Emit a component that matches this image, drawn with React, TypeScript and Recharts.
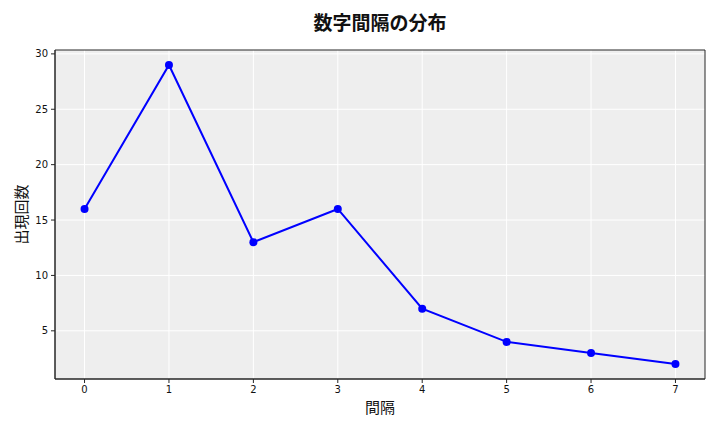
import { CartesianGrid, Label, Line, LineChart, ReferenceArea, XAxis, YAxis } from "recharts";

// 数字間隔ごとの出現回数
const intervals = [0, 1, 2, 3, 4, 5, 6, 7];
const counts = [16, 29, 13, 16, 7, 4, 3, 2];
const xTicks = [0, 1, 2, 3, 4, 5, 6, 7];
const yTicks = [5, 10, 15, 20, 25, 30];

const data = intervals.map((interval, i) => ({ interval, count: counts[i] }));

const X_DOMAIN: [number, number] = [-0.35, 7.35];
const Y_DOMAIN: [number, number] = [0.65, 30.35];

const AXIS_COLOR = "#262626";
const tickStyle = { fill: "#111", fontSize: 10, fontFamily: "DejaVu Sans" };
const cjkFont = "'Noto Sans CJK JP', sans-serif";

export default function App() {
  return (
    <div style={{ position: "absolute", left: 0, top: 0, width: 720, height: 432, background: "#fff" }}>
      <div
        style={{
          position: "absolute",
          left: 55,
          width: 650,
          top: 8,
          textAlign: "center",
          fontFamily: cjkFont,
          fontSize: 19,
          fontWeight: 600,
          color: "#111",
        }}
      >
        数字間隔の分布
      </div>
      <LineChart width={720} height={432} data={data} margin={{ top: 50, right: 15, bottom: 23, left: 25 }}>
        <CartesianGrid fill="#eeeeee" stroke="#ffffff" strokeWidth={1} verticalValues={xTicks} horizontalValues={yTicks} />
        <XAxis
          dataKey="interval"
          type="number"
          domain={X_DOMAIN}
          ticks={xTicks}
          allowDataOverflow
          height={30}
          stroke={AXIS_COLOR}
          tick={tickStyle}
          tickSize={4}
          tickMargin={3}
        >
          <Label value="間隔" position="insideBottom" offset={-4} style={{ fontFamily: cjkFont, fontSize: 15, fill: "#111" }} />
        </XAxis>
        <YAxis
          type="number"
          domain={Y_DOMAIN}
          ticks={yTicks}
          allowDataOverflow
          width={30}
          stroke={AXIS_COLOR}
          tick={tickStyle}
          tickSize={4}
          tickMargin={3}
        >
          <Label
            value="出現回数"
            angle={-90}
            position="insideLeft"
            offset={-3}
            style={{ fontFamily: cjkFont, fontSize: 15, fill: "#111", textAnchor: "middle" }}
          />
        </YAxis>
        {/* 枠線（上・右） */}
        <ReferenceArea
          x1={X_DOMAIN[0]}
          x2={X_DOMAIN[1]}
          y1={Y_DOMAIN[0]}
          y2={Y_DOMAIN[1]}
          fill="none"
          stroke={AXIS_COLOR}
          strokeWidth={1}
          ifOverflow="visible"
        />
        <Line
          type="linear"
          dataKey="count"
          stroke="#0000ff"
          strokeWidth={2}
          dot={{ r: 4, fill: "#0000ff", stroke: "#0000ff", strokeWidth: 0 }}
          isAnimationActive={false}
        />
      </LineChart>
    </div>
  );
}
